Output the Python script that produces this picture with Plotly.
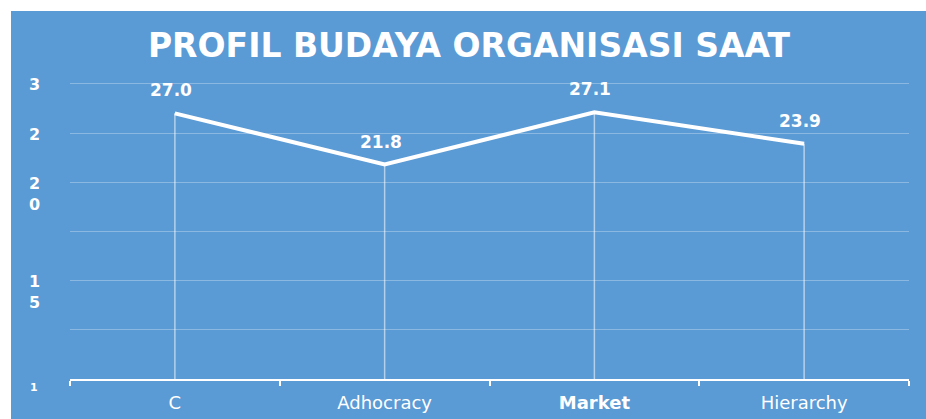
import plotly.graph_objects as go

# ---- data ----
categories = ["C", "Adhocracy", "Market", "Hierarchy"]
values = [27.0, 21.8, 27.1, 23.9]
title_text = "PROFIL BUDAYA ORGANISASI SAAT"
# y-axis labels as they appear in the reference (wrapped/garbled)
ylabel_vals = [30, 25, 20, 10, 0]
ylabel_text = ["3", "2", "2<br>0", "1<br>5", "1"]
ylabel_sizes = [16, 16, 16, 16, 11]

BLUE = "#5A9AD5"
WHITE = "#FFFFFF"
W, H = 926, 419
L, R, T, B = 70, 17, 74, 40
PW, PH = W - L - R, H - T - B
EDGE = 11  # white strip at top/left

fig = go.Figure()

# drop lines from each point to the axis
dx, dy = [], []
for c, v in zip(categories, values):
    dx += [c, c, None]
    dy += [0, v, None]
fig.add_trace(go.Scatter(x=dx, y=dy, mode="lines",
                         line=dict(color="rgba(255,255,255,0.55)", width=1.5),
                         hoverinfo="skip", showlegend=False))

# main line
fig.add_trace(go.Scatter(x=categories, y=values, mode="lines",
                         line=dict(color=WHITE, width=4),
                         showlegend=False))

annotations = []
# data labels
for c, v in zip(categories, values):
    annotations.append(dict(x=c, y=v, xref="x", yref="y", text=f"{v:.1f}",
                            showarrow=False, yshift=23, xshift=-4,
                            font=dict(family="DejaVu Sans", size=17, color=WHITE, weight="bold")))
# y labels
for val, txt, sz in zip(ylabel_vals, ylabel_text, ylabel_sizes):
    annotations.append(dict(x=-(L - 34) / PW, y=val, xref="paper", yref="y",
                            text=txt, showarrow=False, xanchor="center", yanchor="top",
                            yshift=(sz * 0.65 if sz > 12 else 0),
                            font=dict(family="DejaVu Sans", size=sz, color=WHITE, weight="bold")))

fig.update_layout(
    width=W, height=H,
    margin=dict(l=L, r=R, t=T, b=B, pad=0, autoexpand=False),
    paper_bgcolor=BLUE,
    plot_bgcolor=BLUE,
    title=dict(text=title_text, x=469 / W, xref="container", xanchor="center",
               y=1 - 45 / H, yref="container", yanchor="middle",
               font=dict(family="DejaVu Sans", size=33, color=WHITE, weight="bold")),
    xaxis=dict(type="category", categoryorder="array", categoryarray=categories,
               range=[-0.5, len(categories) - 0.5], automargin=False,
               tickvals=categories,
               ticktext=[f"<b>{c}</b>" if c == "Market" else c for c in categories],
               showgrid=False, showline=True, linecolor=WHITE, linewidth=2,
               ticks="outside", tickson="boundaries", ticklen=5, tickwidth=2, tickcolor=WHITE,
               ticklabelstandoff=6,
               tickfont=dict(family="DejaVu Sans", size=18, color=WHITE)),
    yaxis=dict(range=[0, 31], dtick=5, tick0=0, showticklabels=False, automargin=False,
               showgrid=True, gridcolor="rgba(255,255,255,0.3)", gridwidth=1,
               zeroline=False, showline=False, ticks=""),
    annotations=annotations,
    shapes=[
        dict(type="rect", xref="paper", yref="paper",
             x0=-L / PW - 0.01, x1=1 + R / PW + 0.01,
             y0=1 + T / PH - EDGE / PH, y1=1 + T / PH + 0.01,
             fillcolor=WHITE, line=dict(width=0), layer="above"),
        dict(type="rect", xref="paper", yref="paper",
             x0=-L / PW - 0.01, x1=-L / PW + EDGE / PW,
             y0=-B / PH - 0.01, y1=1 + T / PH + 0.01,
             fillcolor=WHITE, line=dict(width=0), layer="above"),
    ],
)

fig.write_html(
    "out.html",
    config={"displayModeBar": False},
    post_script="document.body.style.margin='0';document.documentElement.style.overflow='hidden';",
)
